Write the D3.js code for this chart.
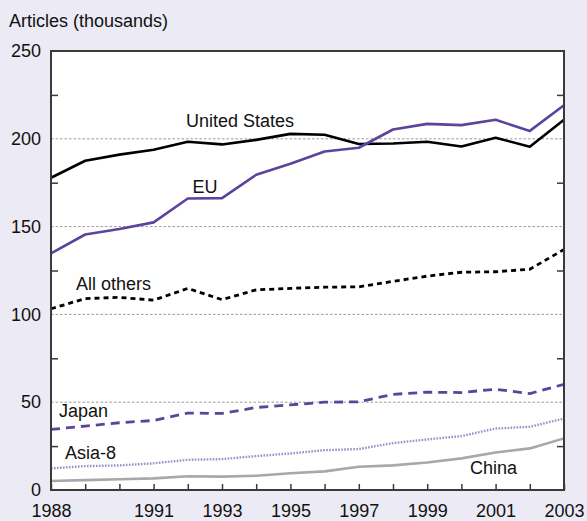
<!DOCTYPE html>
<html>
<head>
<meta charset="utf-8">
<script src="https://cdn.jsdelivr.net/npm/d3@7"></script>
<style>
  html, body { margin: 0; padding: 0; background: #eceaf4; }
  svg { display: block; font-family: "Liberation Sans", Arial, Helvetica, sans-serif; }
</style>
</head>
<body>
<div id="chart"></div>
<script>
// values (thousands of articles)
const years = [1988, 1989, 1990, 1991, 1992, 1993, 1994, 1995, 1996, 1997, 1998, 1999, 2000, 2001, 2002, 2003];
const unitedStates = [177.8, 187.5, 191, 193.8, 198.3, 196.8, 199.4, 202.8, 202.3, 197, 197.3, 198.3, 195.6, 200.6, 195.5, 210.8];
const eu = [134.7, 145.5, 148.6, 152.4, 166, 166.2, 179.5, 185.8, 192.8, 194.9, 205.3, 208.5, 207.8, 210.8, 204.5, 219.1];
const allOthers = [103.2, 109, 109.7, 108.1, 114.8, 108.4, 114, 114.8, 115.5, 115.7, 118.8, 121.8, 124, 124.3, 125.7, 137];
const japan = [34.5, 36.4, 38.3, 39.6, 43.8, 43.6, 47, 48.5, 50, 50.2, 54.5, 55.7, 55.5, 57.4, 54.9, 60.2];
const asia8 = [12.3, 13.6, 14, 15.2, 17.2, 17.6, 19.3, 20.8, 22.7, 23.3, 26.7, 28.8, 30.7, 35, 36, 40.7];
const china = [5.1, 5.6, 6.1, 6.6, 7.8, 7.6, 8.1, 9.5, 10.6, 13.2, 14, 15.7, 18, 21.4, 23.7, 29.4];

const yMajor = [0, 50, 100, 150, 200, 250];
const yMinor = [25, 75, 125, 175, 225];
const yGrid = [50, 100, 150, 200];
const xLabels = [1988, 1991, 1993, 1995, 1997, 1999, 2001, 2003];

const series = [
  {name: "United States", values: unitedStates, color: "#000000", dash: null, width: 2.6, lx: 240, ly: 127, anchor: "middle"},
  {name: "EU", values: eu, color: "#5c449c", dash: null, width: 2.6, lx: 205, ly: 193, anchor: "middle"},
  {name: "All others", values: allOthers, color: "#000000", dash: "5,4", width: 2.8, lx: 76, ly: 290, anchor: "start"},
  {name: "Japan", values: japan, color: "#5c449c", dash: "9,6", width: 2.8, lx: 59, ly: 417, anchor: "start"},
  {name: "Asia-8", values: asia8, color: "#9c8dcb", dash: "1.6,1.4", width: 2.4, lx: 65, ly: 459, anchor: "start"},
  {name: "China", values: china, color: "#a8a8aa", dash: null, width: 2.6, lx: 470, ly: 474, anchor: "start"}
];

const width = 587, height = 521;
const mLeft = 51, mRight = 564, mTop = 51, mBottom = 490;

const x = d3.scaleLinear().domain([1988, 2003]).range([mLeft, mRight]);
const y = d3.scaleLinear().domain([0, 250]).range([mBottom, mTop]);

const svg = d3.select("#chart").append("svg")
  .attr("width", width)
  .attr("height", height);

svg.append("rect").attr("width", width).attr("height", height).attr("fill", "#eceaf4");
svg.append("rect")
  .attr("x", mLeft).attr("y", mTop)
  .attr("width", mRight - mLeft).attr("height", mBottom - mTop)
  .attr("fill", "#ffffff");

svg.append("text")
  .attr("x", 9).attr("y", 27)
  .attr("font-size", 18)
  .attr("fill", "#111")
  .text("Articles (thousands)");

// grid
svg.append("g").selectAll("line")
  .data(yGrid)
  .join("line")
  .attr("x1", mLeft).attr("x2", mRight)
  .attr("y1", d => y(d)).attr("y2", d => y(d))
  .attr("stroke", "#9a9a9a")
  .attr("stroke-width", 1)
  .attr("stroke-dasharray", "2.5,2");

// lines
const line = d3.line()
  .x((d, i) => x(years[i]))
  .y(d => y(d));

svg.append("g")
  .attr("fill", "none")
  .selectAll("path")
  .data(series)
  .join("path")
  .attr("stroke", d => d.color)
  .attr("stroke-width", d => d.width)
  .attr("stroke-dasharray", d => d.dash)
  .attr("stroke-linejoin", "round")
  .attr("d", d => line(d.values));

svg.append("g")
  .selectAll("text")
  .data(series)
  .join("text")
  .attr("x", d => d.lx).attr("y", d => d.ly)
  .attr("text-anchor", d => d.anchor)
  .attr("font-size", 18)
  .attr("fill", "#111")
  .text(d => d.name);

// axes
const frame = "#3a3a3a";

const yLabels = svg.append("g")
  .attr("transform", `translate(${mLeft},0)`)
  .call(d3.axisLeft(y).tickValues(yMajor).tickSize(0).tickPadding(10));
yLabels.select(".domain").remove();
yLabels.selectAll("text").attr("font-size", 18).attr("font-family", null).attr("fill", "#111");

svg.append("g")
  .attr("transform", `translate(${mLeft},0)`)
  .call(d3.axisRight(y).tickValues(yMinor).tickSize(7).tickFormat(""))
  .call(g => g.select(".domain").remove())
  .call(g => g.selectAll("line").attr("stroke", frame).attr("stroke-width", 1.5));

svg.append("g")
  .attr("transform", `translate(${mRight},0)`)
  .call(d3.axisLeft(y).tickValues(yMinor).tickSize(7).tickFormat(""))
  .call(g => g.select(".domain").remove())
  .call(g => g.selectAll("line").attr("stroke", frame).attr("stroke-width", 1.5));

svg.append("g")
  .attr("transform", `translate(0,${mBottom})`)
  .call(d3.axisTop(x).tickValues(years).tickSize(6).tickFormat(""))
  .call(g => g.select(".domain").remove())
  .call(g => g.selectAll("line").attr("stroke", frame).attr("stroke-width", 1.5));

const xAxis = svg.append("g")
  .attr("transform", `translate(0,${mBottom})`)
  .call(d3.axisBottom(x).tickValues(xLabels).tickSize(0).tickPadding(14).tickFormat(d3.format("d")));
xAxis.select(".domain").remove();
xAxis.selectAll("text").attr("font-size", 18).attr("font-family", null).attr("fill", "#111");

svg.append("rect")
  .attr("x", mLeft).attr("y", mTop)
  .attr("width", mRight - mLeft).attr("height", mBottom - mTop)
  .attr("fill", "none")
  .attr("stroke", frame)
  .attr("stroke-width", 2);
</script>
</body>
</html>
